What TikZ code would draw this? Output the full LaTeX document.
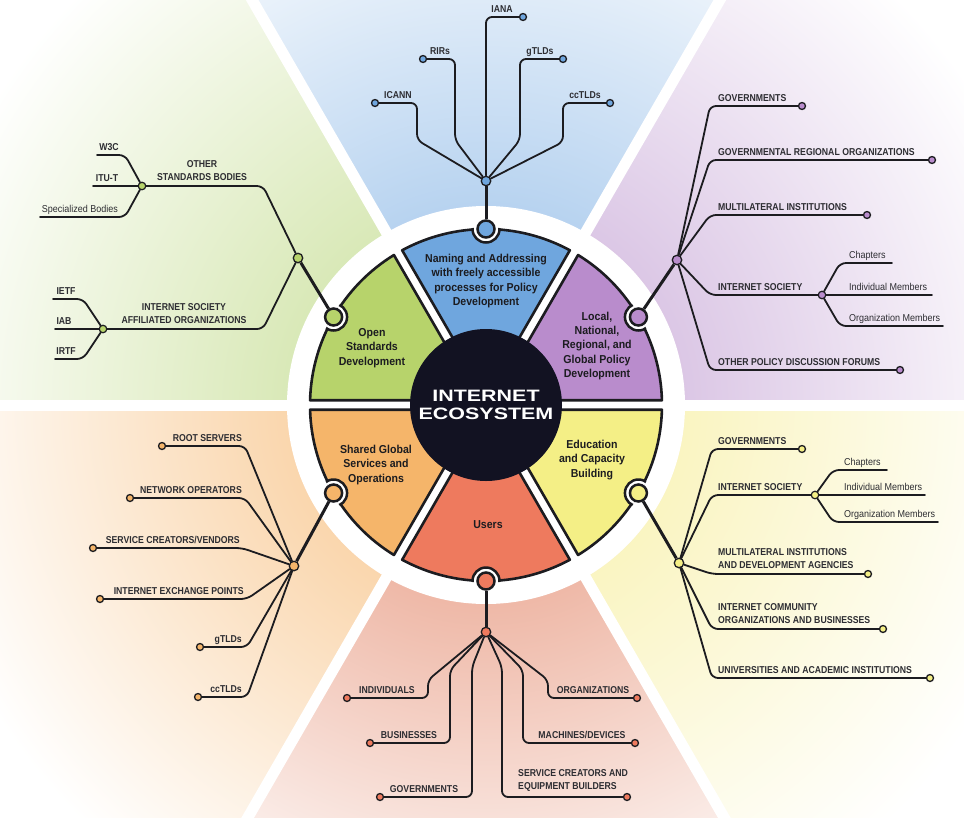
\documentclass[tikz,border=0pt]{standalone}
\usepackage{fontspec}
\setmainfont{Liberation Sans}
\newfontfamily\lblfont{Liberation Sans}[FakeStretch=0.87]
\newfontfamily\slblfont{Liberation Sans}[FakeStretch=0.9]
\newfontfamily\segfont{Liberation Sans}[FakeStretch=0.92]
\newfontfamily\ctrfont{Liberation Sans}[FakeStretch=1.3]
\usetikzlibrary{calc}
\definecolor{bgblue}{RGB}{146,188,232}
\definecolor{bggreen}{RGB}{197,221,146}
\definecolor{bgpurple}{RGB}{201,170,216}
\definecolor{bgyellow}{RGB}{247,239,162}
\definecolor{bgred}{RGB}{230,148,122}
\definecolor{bgorange}{RGB}{247,193,131}
\definecolor{sgblue}{RGB}{111,166,222}
\definecolor{sggreen}{RGB}{183,211,107}
\definecolor{sgpurple}{RGB}{185,140,204}
\definecolor{sgyellow}{RGB}{244,239,134}
\definecolor{sgred}{RGB}{238,122,94}
\definecolor{sgorange}{RGB}{245,181,106}
\definecolor{ctrnavy}{RGB}{18,18,34}
\definecolor{linecol}{RGB}{28,28,32}
\definecolor{txtcol}{RGB}{45,45,50}
\newcommand\segpath[2]{($(C)+(#1+3.9:70)$) -- ($(C)+(#1+1.55:176)$) arc[start angle=#1+1.55, end angle=#2-1.55, radius=176] -- ($(C)+(#2-3.9:70)$) -- cycle}
\begin{document}
\begin{tikzpicture}[x=1pt,y=-1pt,
  br/.style={draw=linecol, line width=1.8pt, rounded corners=6pt, line join=round, line cap=round},
  stem/.style={draw=linecol, line width=3pt},
  leaf/.style={circle, draw=linecol, line width=1.3pt, inner sep=0pt, minimum size=7pt, fill=#1},
  hub/.style={circle, draw=linecol, line width=1.3pt, inner sep=0pt, minimum size=9.5pt, fill=#1},
  subhub/.style={circle, draw=linecol, line width=1.2pt, inner sep=0pt, minimum size=7.5pt, fill=#1},
  conn/.style={circle, draw=linecol, line width=2.5pt, inner sep=0pt, minimum size=17pt, fill=#1},
  lab/.style={font=\lblfont\bfseries\fontsize{10}{13}\selectfont, inner sep=0pt, text=txtcol},
  slab/.style={font=\slblfont\fontsize{10}{11}\selectfont, inner sep=0pt, text=txtcol},
  seg/.style={font=\segfont\bfseries\fontsize{11.5}{14.4}\selectfont, align=center, inner sep=0pt, text=linecol},
  core/.style={circle, fill=ctrnavy, minimum size=152pt, inner sep=0pt, text=white, align=center,
    font=\ctrfont\bfseries\fontsize{16.5}{17.5}\selectfont}
]
\useasboundingbox (0,0) rectangle (964,817);
\coordinate (C) at (486,405);
% background wedges
\foreach \a/\b/\c in {240/300/bgblue, 300/360/bgpurple, 0/60/bgyellow, 60/120/bgred, 120/180/bgorange, 180/240/bggreen}{
  \begin{scope}
    \clip (C) -- ($(C)+(\a:1500)$) -- ($(C)+(\b:1500)$) -- cycle;
    \shade[inner color=\c, outer color=white] (C) circle (580);
  \end{scope}
}
\fill[white] (C) circle (199);
\foreach \a in {0,60,...,300} \draw[white, line width=11pt] (C) -- ($(C)+(\a:1500)$);
% segments
\foreach \a/\b/\c in {240/300/sgblue, 300/360/sgpurple, 0/60/sgyellow, 60/120/sgred, 120/180/sgorange, 180/240/sggreen}{
  \draw[draw=linecol, line width=2.6pt, line join=round, fill=\c] \segpath{\a}{\b};
}
\begin{scope}
  \clip (C) circle (177.5);
  \foreach \m in {270,330,30,90,150,210} \draw[draw=linecol, line width=2.5pt, fill=white] ($(C)+(\m:176)$) circle (13.5);
\end{scope}
\node[core] (core) at (C) {INTERNET\\ECOSYSTEM};
% segment labels
\node[seg] (sgT) at (486,281) {Naming and Addressing\\with freely accessible\\processes for Policy\\Development};
\node[seg] (sgP) at (597,346) {Local,\\National,\\Regional, and\\Global Policy\\Development};
\node[seg] (sgG) at (372,348) {Open\\Standards\\Development};
\node[seg] (sgO) at (376,465) {Shared Global\\Services and\\Operations};
\node[seg] (sgY) at (592,460) {Education\\and Capacity\\Building};
\node[seg] (sgR) at (488,525) {Users};
% connectors
\node[conn=sgblue] (cT) at ($(C)+(270:176)$) {};
\node[conn=sgpurple] (cP) at ($(C)+(330:176)$) {};
\node[conn=sgyellow] (cY) at ($(C)+(30:176)$) {};
\node[conn=sgred] (cR) at ($(C)+(90:176)$) {};
\node[conn=sgorange] (cO) at ($(C)+(150:176)$) {};
\node[conn=sggreen] (cG) at ($(C)+(210:176)$) {};

% ===== top (blue) =====
\node[hub=sgblue] (hT) at (486,181) {};
\draw[stem] (cT) -- (hT);
\coordinate (tIa) at (417,140); \coordinate (tIb) at (417,103); \node[leaf=sgblue] (lICANN) at (375,103) {};
\coordinate (tRa) at (455,140); \coordinate (tRb) at (455,59); \node[leaf=sgblue] (lRIR) at (423,59) {};
\coordinate (tAa) at (486,17); \node[leaf=sgblue] (lIANA) at (523,17) {};
\coordinate (tGa) at (520,140); \coordinate (tGb) at (520,59); \node[leaf=sgblue] (lgTLD) at (563,59) {};
\coordinate (tCa) at (563,142); \coordinate (tCb) at (563,103); \node[leaf=sgblue] (lccTLD) at (610,103) {};
\draw[br] (hT) -- (tIa) -- (tIb) -- (lICANN);
\draw[br] (hT) -- (tRa) -- (tRb) -- (lRIR);
\draw[br] (hT) -- (tAa) -- (lIANA);
\draw[br] (hT) -- (tGa) -- (tGb) -- (lgTLD);
\draw[br] (hT) -- (tCa) -- (tCb) -- (lccTLD);
\node[lab, anchor=base] (xICANN) at (398,98) {ICANN};
\node[lab, anchor=base] (xRIR) at (440,54) {RIRs};
\node[lab, anchor=base] (xIANA) at (502,12) {IANA};
\node[lab, anchor=base] (xgTLD) at (540,54) {gTLDs};
\node[lab, anchor=base] (xccTLD) at (585,98) {ccTLDs};

% ===== upper left (green) =====
\node[hub=sggreen] (hG) at (298,258) {};
\draw[stem] (cG) -- (hG);
\coordinate (gOa) at (263,186); \node[subhub=sggreen] (sOS) at (142,186) {};
\coordinate (gSa) at (263,329); \node[subhub=sggreen] (sIS) at (103,329) {};
\draw[br] (hG) -- (gOa) -- (sOS);
\draw[br] (hG) -- (gSa) -- (sIS);
\node[lab, align=center, anchor=south] (xOS) at (202,181) {OTHER\\STANDARDS BODIES};
\node[lab, align=center, anchor=south] (xIS) at (184,324) {INTERNET SOCIETY\\AFFILIATED ORGANIZATIONS};
\coordinate (gWa) at (125,155); \coordinate (gWb) at (97,155);
\coordinate (gTb) at (93,186);
\coordinate (gBa) at (125,217); \coordinate (gBb) at (40,217);
\draw[br] (sOS) -- (gWa) -- (gWb);
\draw[br] (sOS) -- (gTb);
\draw[br] (sOS) -- (gBa) -- (gBb);
\node[lab, anchor=base] (xW3C) at (109,150) {W3C};
\node[lab, anchor=base] (xITU) at (107,181) {ITU-T};
\node[slab, anchor=base] (xSB) at (80,212) {Specialized Bodies};
\coordinate (gEa) at (83,299); \coordinate (gEb) at (53,299);
\coordinate (gAb) at (55,329);
\coordinate (gRa) at (83,359); \coordinate (gRb) at (55,359);
\draw[br] (sIS) -- (gEa) -- (gEb);
\draw[br] (sIS) -- (gAb);
\draw[br] (sIS) -- (gRa) -- (gRb);
\node[lab, anchor=base] (xIETF) at (66,294) {IETF};
\node[lab, anchor=base] (xIAB) at (64,324) {IAB};
\node[lab, anchor=base] (xIRTF) at (66,354) {IRTF};

% ===== upper right (purple) =====
\node[hub=sgpurple] (hP) at (677,260) {};
\draw[stem] (cP) -- (hP);
\coordinate (pGa) at (710,106); \node[leaf=sgpurple] (lPG) at (802,106) {};
\coordinate (pRa) at (710,160); \node[leaf=sgpurple] (lPR) at (932,160) {};
\coordinate (pMa) at (710,215); \node[leaf=sgpurple] (lPM) at (867,215) {};
\coordinate (pIa) at (710,295); \node[subhub=sgpurple] (sPI) at (822,295) {};
\coordinate (pOa) at (710,370); \node[leaf=sgpurple] (lPO) at (900,370) {};
\draw[br] (hP) -- (pGa) -- (lPG);
\draw[br] (hP) -- (pRa) -- (lPR);
\draw[br] (hP) -- (pMa) -- (lPM);
\draw[br] (hP) -- (pIa) -- (sPI);
\draw[br] (hP) -- (pOa) -- (lPO);
\node[lab, anchor=base west] (xPG) at (718,101) {GOVERNMENTS};
\node[lab, anchor=base west] (xPR) at (718,155) {GOVERNMENTAL REGIONAL ORGANIZATIONS};
\node[lab, anchor=base west] (xPM) at (718,210) {MULTILATERAL INSTITUTIONS};
\node[lab, anchor=base west] (xPI) at (718,290) {INTERNET SOCIETY};
\node[lab, anchor=base west] (xPO) at (718,365) {OTHER POLICY DISCUSSION FORUMS};
\coordinate (pCa) at (840,263); \coordinate (pCb) at (892,263);
\coordinate (pDb) at (932,295);
\coordinate (pEa) at (840,326); \coordinate (pEb) at (943,326);
\draw[br] (sPI) -- (pCa) -- (pCb);
\draw[br] (sPI) -- (pDb);
\draw[br] (sPI) -- (pEa) -- (pEb);
\node[slab, anchor=base west] (xPC) at (849,258) {Chapters};
\node[slab, anchor=base west] (xPD) at (849,290) {Individual Members};
\node[slab, anchor=base west] (xPE) at (849,321) {Organization Members};

% ===== lower right (yellow) =====
\node[hub=sgyellow] (hY) at (679,563) {};
\draw[stem] (cY) -- (hY);
\coordinate (yGa) at (712,449); \node[leaf=sgyellow] (lYG) at (802,449) {};
\coordinate (yIa) at (712,495); \node[subhub=sgyellow] (sYI) at (815,495) {};
\coordinate (yMa) at (712,574); \node[leaf=sgyellow] (lYM) at (868,574) {};
\coordinate (yCa) at (712,629); \node[leaf=sgyellow] (lYC) at (883,629) {};
\coordinate (yUa) at (712,678); \node[leaf=sgyellow] (lYU) at (930,678) {};
\draw[br] (hY) -- (yGa) -- (lYG);
\draw[br] (hY) -- (yIa) -- (sYI);
\draw[br] (hY) -- (yMa) -- (lYM);
\draw[br] (hY) -- (yCa) -- (lYC);
\draw[br] (hY) -- (yUa) -- (lYU);
\node[lab, anchor=base west] (xYG) at (718,444) {GOVERNMENTS};
\node[lab, anchor=base west] (xYI) at (718,490) {INTERNET SOCIETY};
\node[lab, anchor=south west, align=left] (xYM) at (718,569) {MULTILATERAL INSTITUTIONS\\AND DEVELOPMENT AGENCIES};
\node[lab, anchor=south west, align=left] (xYC) at (718,624) {INTERNET COMMUNITY\\ORGANIZATIONS AND BUSINESSES};
\node[lab, anchor=base west] (xYU) at (718,673) {UNIVERSITIES AND ACADEMIC INSTITUTIONS};
\coordinate (yCha) at (833,470); \coordinate (yChb) at (887,470);
\coordinate (yDb) at (925,495);
\coordinate (yEa) at (833,522); \coordinate (yEb) at (938,522);
\draw[br] (sYI) -- (yCha) -- (yChb);
\draw[br] (sYI) -- (yDb);
\draw[br] (sYI) -- (yEa) -- (yEb);
\node[slab, anchor=base west] (xYCh) at (844,465) {Chapters};
\node[slab, anchor=base west] (xYD) at (844,490) {Individual Members};
\node[slab, anchor=base west] (xYE) at (844,517) {Organization Members};

% ===== lower left (orange) =====
\node[hub=sgorange] (hO) at (294,566) {};
\draw[stem] (cO) -- (hO);
\coordinate (oRa) at (245,446); \node[leaf=sgorange] (lOR) at (162,446) {};
\coordinate (oNa) at (245,498); \node[leaf=sgorange] (lON) at (130,498) {};
\coordinate (oSa) at (242,548); \node[leaf=sgorange] (lOS) at (93,548) {};
\coordinate (oXa) at (247,599); \node[leaf=sgorange] (lOX) at (100,599) {};
\coordinate (oGa) at (247,647); \node[leaf=sgorange] (lOG) at (200,647) {};
\coordinate (oCa) at (247,697); \node[leaf=sgorange] (lOC) at (198,697) {};
\draw[br] (hO) -- (oRa) -- (lOR);
\draw[br] (hO) -- (oNa) -- (lON);
\draw[br] (hO) -- (oSa) -- (lOS);
\draw[br] (hO) -- (oXa) -- (lOX);
\draw[br] (hO) -- (oGa) -- (lOG);
\draw[br] (hO) -- (oCa) -- (lOC);
\node[lab, anchor=base east] (xOR) at (242,441) {ROOT SERVERS};
\node[lab, anchor=base east] (xON) at (242,493) {NETWORK OPERATORS};
\node[lab, anchor=base east] (xOS2) at (240,543) {SERVICE CREATORS/VENDORS};
\node[lab, anchor=base east] (xOX) at (244,594) {INTERNET EXCHANGE POINTS};
\node[lab, anchor=base east] (xOG) at (242,642) {gTLDs};
\node[lab, anchor=base east] (xOC) at (242,692) {ccTLDs};

% ===== bottom (red) =====
\node[hub=sgred] (hR) at (486,632) {};
\draw[stem] (cR) -- (hR);
\coordinate (rIa) at (428,680); \coordinate (rIb) at (428,698); \node[leaf=sgred] (lRI) at (347,698) {};
\coordinate (rBa) at (450,670); \coordinate (rBb) at (450,743); \node[leaf=sgred] (lRB) at (370,743) {};
\coordinate (rGa) at (472,667); \coordinate (rGb) at (472,797); \node[leaf=sgred] (lRG) at (380,797) {};
\coordinate (rSa) at (502,667); \coordinate (rSb) at (502,797); \node[leaf=sgred] (lRS) at (627,797) {};
\coordinate (rMa) at (523,670); \coordinate (rMb) at (523,743); \node[leaf=sgred] (lRM) at (635,743) {};
\coordinate (rOa) at (548,680); \coordinate (rOb) at (548,698); \node[leaf=sgred] (lRO) at (637,698) {};
\draw[br] (hR) -- (rIa) -- (rIb) -- (lRI);
\draw[br] (hR) -- (rBa) -- (rBb) -- (lRB);
\draw[br] (hR) -- (rGa) -- (rGb) -- (lRG);
\draw[br] (hR) -- (rSa) -- (rSb) -- (lRS);
\draw[br] (hR) -- (rMa) -- (rMb) -- (lRM);
\draw[br] (hR) -- (rOa) -- (rOb) -- (lRO);
\node[lab, anchor=base] (xRI) at (387,693) {INDIVIDUALS};
\node[lab, anchor=base] (xRB) at (409,738) {BUSINESSES};
\node[lab, anchor=base] (xRG) at (424,792) {GOVERNMENTS};
\node[lab, anchor=south west, align=left] (xRS) at (518,792) {SERVICE CREATORS AND\\EQUIPMENT BUILDERS};
\node[lab, anchor=base] (xRM) at (582,738) {MACHINES/DEVICES};
\node[lab, anchor=base] (xRO) at (593,693) {ORGANIZATIONS};
\end{tikzpicture}
\end{document}
